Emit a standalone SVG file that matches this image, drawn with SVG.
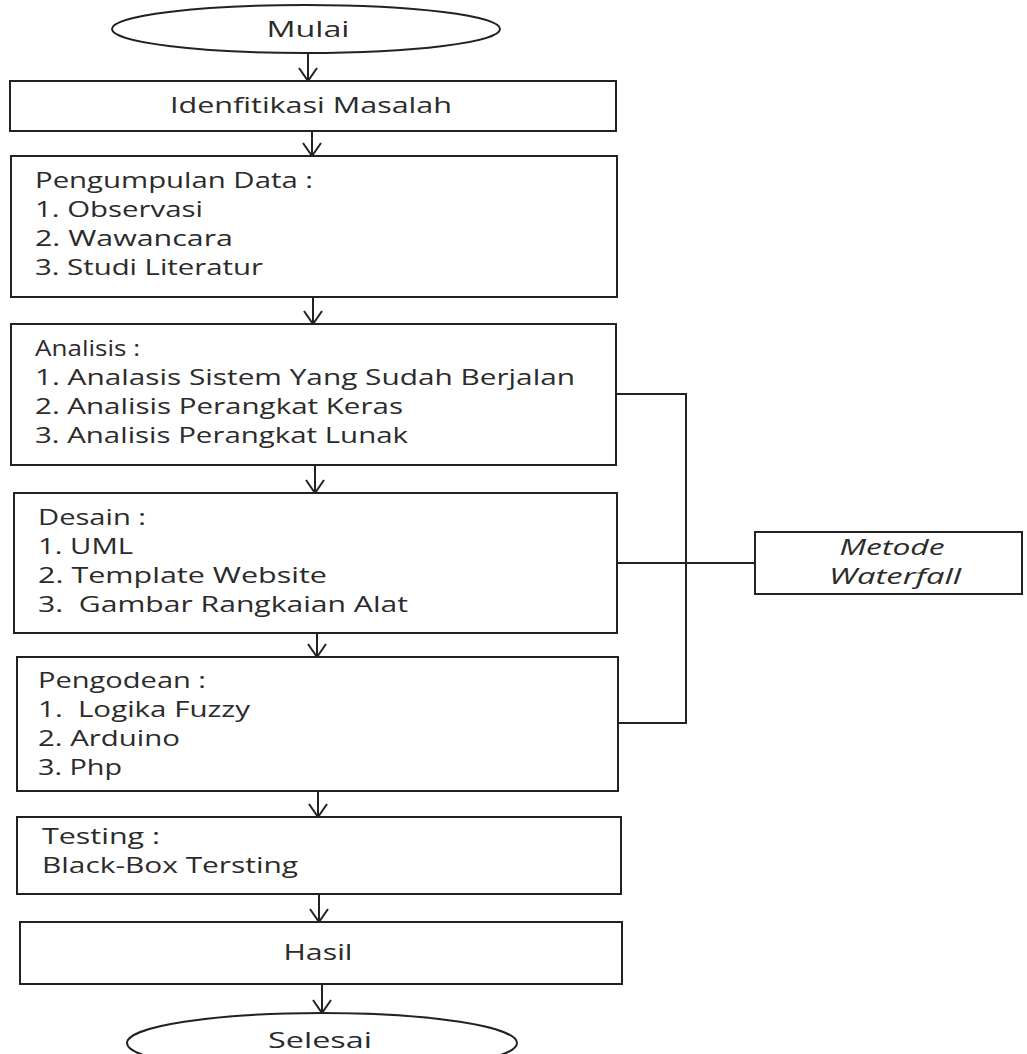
<svg xmlns="http://www.w3.org/2000/svg" width="1027" height="1054" viewBox="0 0 1027 1054">
<defs>
<marker id="arr" viewBox="-1 -11 15 22" refX="13" refY="0" markerWidth="15" markerHeight="22" markerUnits="userSpaceOnUse" orient="auto">
<path d="M0,-9 L13,0 L0,9" fill="none" stroke="#222" stroke-width="2"/>
</marker>
</defs>
<style>
.box{fill:#fff;stroke:#222;stroke-width:2}
.t{font-family:"Open Sans","Liberation Sans",sans-serif;font-size:21px;fill:#2b2b2b;white-space:pre}
.c{text-anchor:middle}
.i{font-style:italic}
.ln{fill:none;stroke:#222;stroke-width:2}
</style>
<rect width="1027" height="1054" fill="#fff"/>
<g id="connectors">
<line class="ln" x1="308" y1="53" x2="308" y2="81" marker-end="url(#arr)"/>
<line class="ln" x1="312" y1="131" x2="312" y2="156" marker-end="url(#arr)"/>
<line class="ln" x1="313" y1="297" x2="313" y2="324" marker-end="url(#arr)"/>
<line class="ln" x1="315" y1="465" x2="315" y2="493" marker-end="url(#arr)"/>
<line class="ln" x1="317" y1="633" x2="317" y2="657" marker-end="url(#arr)"/>
<line class="ln" x1="318" y1="791" x2="318" y2="817" marker-end="url(#arr)"/>
<line class="ln" x1="319" y1="894" x2="319" y2="922" marker-end="url(#arr)"/>
<line class="ln" x1="322" y1="984" x2="322" y2="1013" marker-end="url(#arr)"/>
<polyline class="ln" points="616,394 686,394 686,723 618,723"/>
<line class="ln" x1="617" y1="563" x2="755" y2="563"/>
</g>
<g id="mulai">
<ellipse class="box" cx="306" cy="29" rx="194" ry="24"/>
<text class="t c" x="308" y="37" textLength="83" lengthAdjust="spacingAndGlyphs">Mulai</text>
</g>
<g id="identifikasi">
<rect class="box" x="10" y="81" width="606" height="50"/>
<text class="t c" x="311" y="113" textLength="282" lengthAdjust="spacingAndGlyphs">Idenfitikasi Masalah</text>
</g>
<g id="pengumpulan">
<rect class="box" x="11" y="156" width="606" height="141"/>
<text class="t" x="35" y="188" textLength="278" lengthAdjust="spacingAndGlyphs">Pengumpulan Data :</text>
<text class="t" x="35" y="217" textLength="168" lengthAdjust="spacingAndGlyphs">1. Observasi</text>
<text class="t" x="35" y="246" textLength="198" lengthAdjust="spacingAndGlyphs">2. Wawancara</text>
<text class="t" x="35" y="275" textLength="228" lengthAdjust="spacingAndGlyphs">3. Studi Literatur</text>
</g>
<g id="analisis">
<rect class="box" x="11" y="324" width="605" height="141"/>
<text class="t" x="35" y="356" textLength="105" lengthAdjust="spacingAndGlyphs">Analisis :</text>
<text class="t" x="35" y="385" textLength="540" lengthAdjust="spacingAndGlyphs">1. Analasis Sistem Yang Sudah Berjalan</text>
<text class="t" x="35" y="414" textLength="368" lengthAdjust="spacingAndGlyphs">2. Analisis Perangkat Keras</text>
<text class="t" x="35" y="443" textLength="373" lengthAdjust="spacingAndGlyphs">3. Analisis Perangkat Lunak</text>
</g>
<g id="desain">
<rect class="box" x="14" y="493" width="603" height="140"/>
<text class="t" x="38" y="525" textLength="108" lengthAdjust="spacingAndGlyphs">Desain :</text>
<text class="t" x="38" y="554" textLength="95" lengthAdjust="spacingAndGlyphs">1. UML</text>
<text class="t" x="38" y="583" textLength="289" lengthAdjust="spacingAndGlyphs">2. Template Website</text>
<text class="t" x="38" y="612" textLength="370" lengthAdjust="spacingAndGlyphs">3.  Gambar Rangkaian Alat</text>
</g>
<g id="pengodean">
<rect class="box" x="17" y="657" width="601" height="134"/>
<text class="t" x="38" y="688" textLength="168" lengthAdjust="spacingAndGlyphs">Pengodean :</text>
<text class="t" x="38" y="717" textLength="212" lengthAdjust="spacingAndGlyphs">1.  Logika Fuzzy</text>
<text class="t" x="38" y="746" textLength="142" lengthAdjust="spacingAndGlyphs">2. Arduino</text>
<text class="t" x="38" y="775" textLength="84" lengthAdjust="spacingAndGlyphs">3. Php</text>
</g>
<g id="testing">
<rect class="box" x="17" y="817" width="604" height="77"/>
<text class="t" x="42" y="844" textLength="118" lengthAdjust="spacingAndGlyphs">Testing :</text>
<text class="t" x="42" y="873" textLength="256" lengthAdjust="spacingAndGlyphs">Black-Box Tersting</text>
</g>
<g id="hasil">
<rect class="box" x="20" y="922" width="602" height="62"/>
<text class="t c" x="318" y="960" textLength="69" lengthAdjust="spacingAndGlyphs">Hasil</text>
</g>
<g id="selesai">
<ellipse class="box" cx="322" cy="1043" rx="195" ry="30"/>
<text class="t c" x="320" y="1048" textLength="104" lengthAdjust="spacingAndGlyphs">Selesai</text>
</g>
<g id="metode">
<rect class="box" x="755" y="532" width="267" height="62"/>
<text class="t c i" x="892" y="555" textLength="105" lengthAdjust="spacingAndGlyphs">Metode</text>
<text class="t c i" x="895" y="584" textLength="132" lengthAdjust="spacingAndGlyphs">Waterfall</text>
</g>
</svg>
